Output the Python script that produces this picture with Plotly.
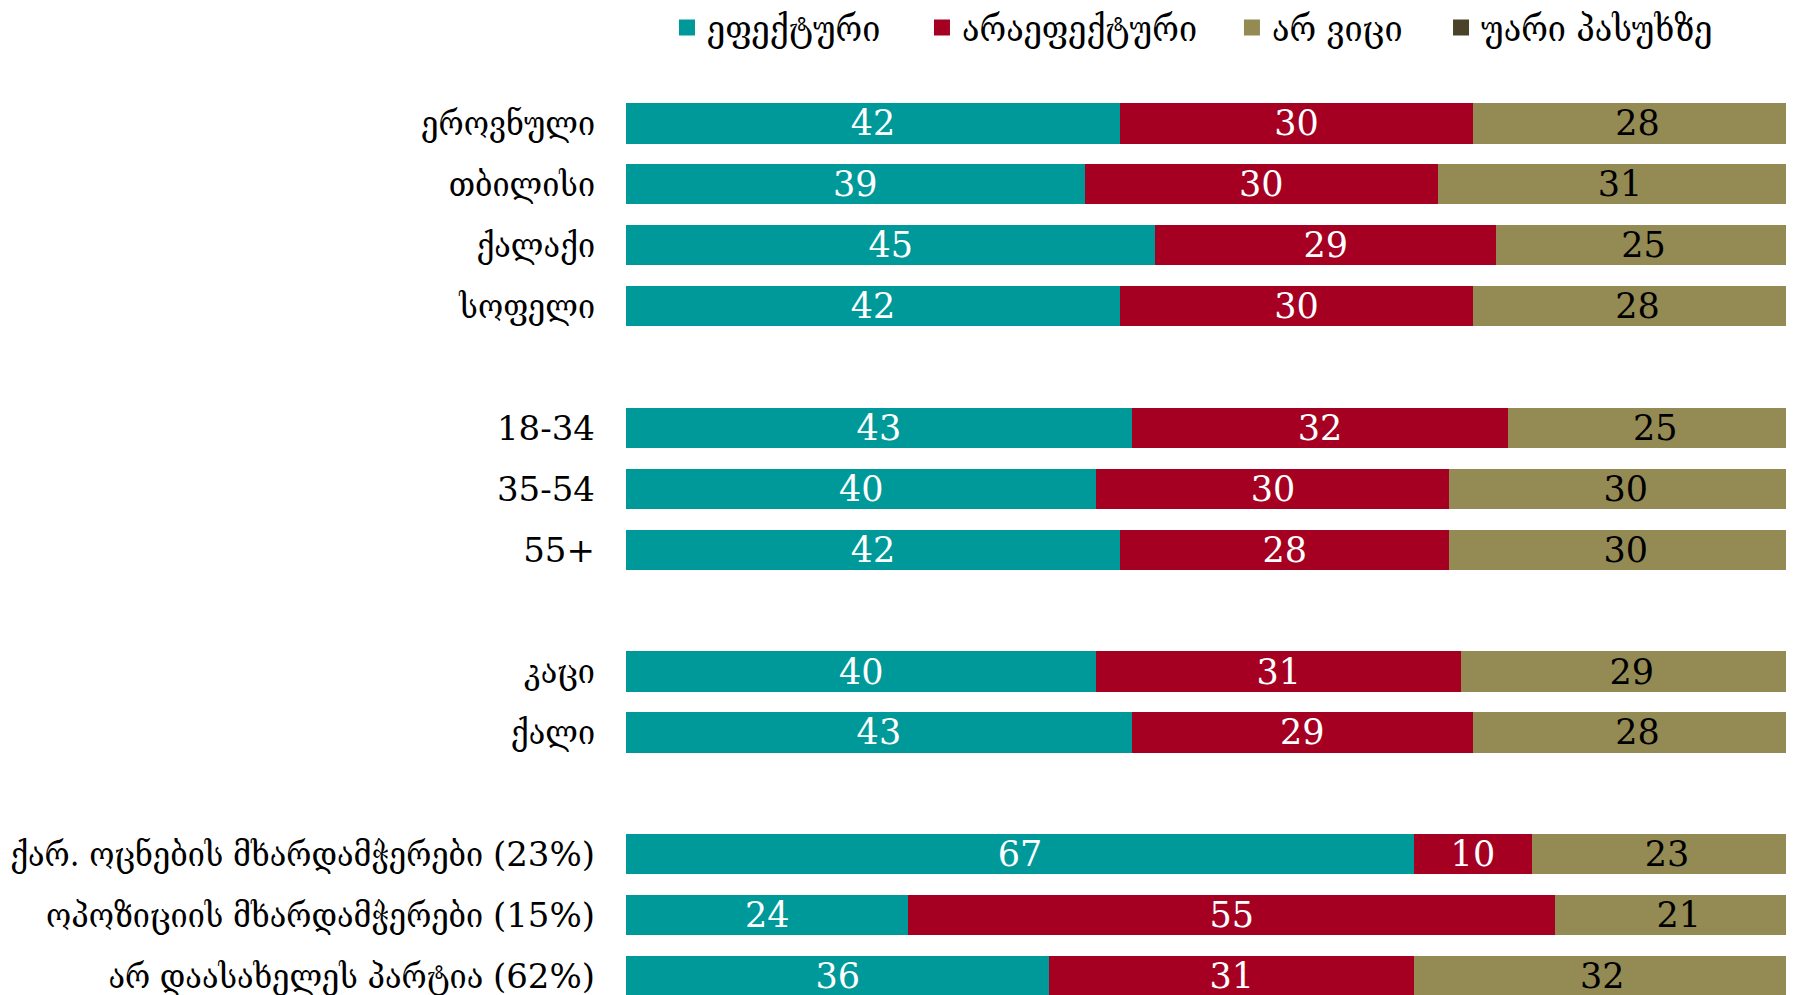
import re
import plotly.graph_objects as go

categories = ["ეროვნული", "თბილისი", "ქალაქი", "სოფელი", " ",
              "18-34", "35-54", "55+", "  ",
              "კაცი", "ქალი", "   ",
              "ქარ. ოცნების მხარდამჭერები (23%)",
              "ოპოზიციის მხარდამჭერები (15%)",
              "არ დაასახელეს პარტია (62%)"]

effective =   [42, 39, 45, 42, None, 43, 40, 42, None, 40, 43, None, 67, 24, 36]
ineffective = [30, 30, 29, 30, None, 32, 30, 28, None, 31, 29, None, 10, 55, 31]
dont_know =   [28, 31, 25, 28, None, 25, 30, 30, None, 29, 28, None, 23, 21, 32]
refused =     [0, 0, 1, 0, None, 0, 0, 0, None, 0, 0, None, 0, 0, 1]

series_names = ["ეფექტური", "არაეფექტური", "არ ვიცი", "უარი პასუხზე"]
colors = ["#009999", "#A50021", "#948A54", "#4A4229"]
text_colors = ["white", "white", "black", "white"]
legend_ids = ["legend", "legend2", "legend3", "legend4"]
legend_x = [0.0351, 0.2534, 0.5188, 0.6978]

FONT = "DejaVu Serif"
GEO_FONT = "DejaVu Serif Condensed"

FIG_W = 1786
FIG_H = 995


def tick_label(s):
    # digits and punctuation in the regular serif face, Georgian in the condensed face
    return re.sub(r"[0-9()%+\-]+",
                  lambda m: f'<span style="font-family:{FONT}">{m.group(0)}</span>', s)


fig = go.Figure()
for vals, name, col, tcol, show_text, lid in zip(
        [effective, ineffective, dont_know, refused], series_names, colors, text_colors,
        [True, True, True, False], legend_ids):
    fig.add_trace(go.Bar(
        y=categories, x=vals, orientation="h", name=name,
        marker=dict(color=col, line=dict(width=0)),
        texttemplate="%{x}" if show_text else None,
        textposition="inside" if show_text else "none",
        insidetextanchor="middle",
        constraintext="none",
        textangle=0,
        insidetextfont=dict(family=FONT, size=35, color=tcol),
        showlegend=False,
        hoverinfo="skip",
        cliponaxis=True,
    ))
    # legend entry
    fig.add_trace(go.Scatter(
        x=[None], y=[None], mode="markers", name=name,
        marker=dict(symbol="square", size=20, color=col),
        showlegend=True, legend=lid,
    ))

legend_common = dict(orientation="h", xanchor="left", yref="container",
                     y=1 - 19.5 / FIG_H, yanchor="middle", bgcolor="rgba(0,0,0,0)",
                     font=dict(family=GEO_FONT, size=36, color="black"),
                     itemsizing="trace")
layout_legends = {lid: dict(x=lx, **legend_common) for lid, lx in zip(legend_ids, legend_x)}

# plot area: 85 px from top, one category slot = 60.9 px
plot_h = FIG_H - 85
y_bottom = -0.5 + plot_h / 60.9

fig.update_layout(
    width=FIG_W, height=FIG_H,
    barmode="stack",
    bargap=0.34,
    plot_bgcolor="white", paper_bgcolor="white",
    margin=dict(l=618, r=0, t=85, b=0, autoexpand=False),
    font=dict(family=FONT, size=34, color="black"),
    uniformtext=dict(mode=False),
    **layout_legends,
)
fig.update_xaxes(range=[0, 99.3], visible=False, showgrid=False, zeroline=False)
fig.update_yaxes(type="category", categoryorder="array", categoryarray=categories,
                 tickmode="array", tickvals=categories,
                 ticktext=[tick_label(c) for c in categories],
                 range=[y_bottom, -0.5], showgrid=False, zeroline=False, showline=False,
                 ticks="", ticklabelstandoff=30, automargin=False,
                 tickfont=dict(family=GEO_FONT, size=34, color="black"))

fig.write_html("out.html")
